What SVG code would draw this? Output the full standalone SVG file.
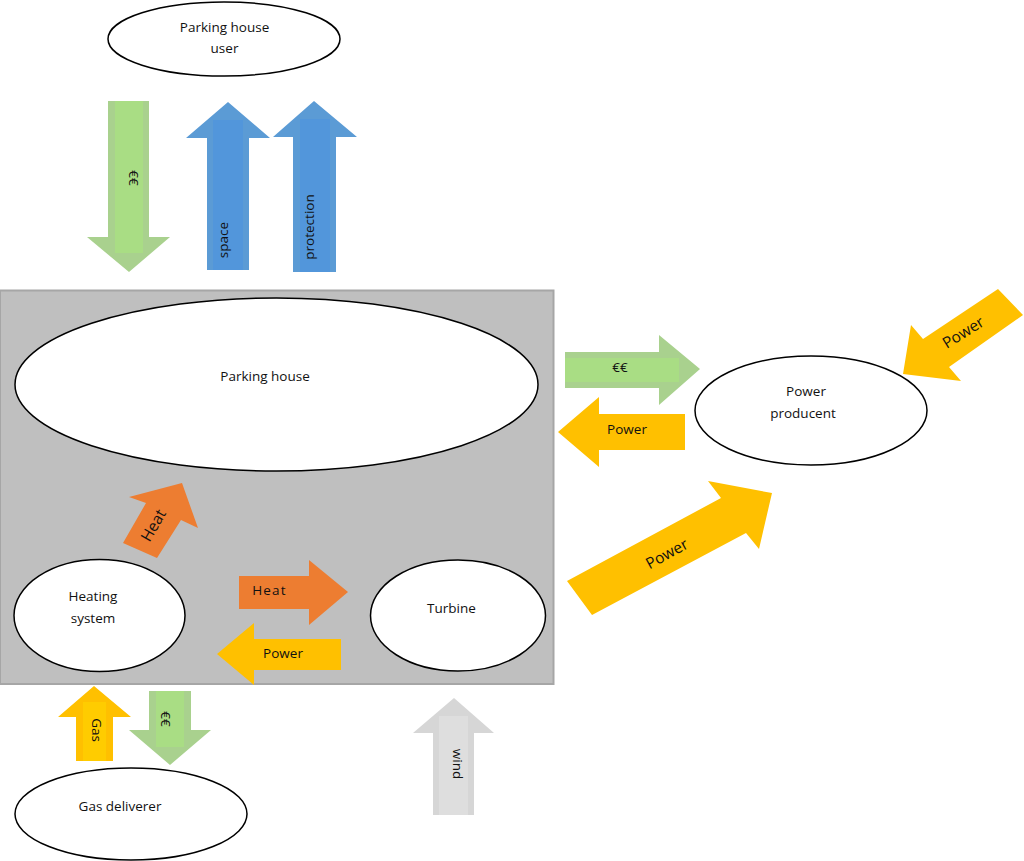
<svg xmlns="http://www.w3.org/2000/svg" width="1024" height="861" viewBox="0 0 1024 861">
<style>
text{font-family:"Open Sans","Noto Sans","Liberation Sans",sans-serif;font-size:13.500px;fill:#111;text-anchor:middle}
.big{font-size:15.500px}
.wide{letter-spacing:1.200px}
.node{fill:#fff;stroke:#000;stroke-width:1.500}
.green{fill:#A9D18E}.greenIn{fill:#A9DD84}
.blue{fill:#5B9BD5}.blueIn{fill:#5296DB}
.gold{fill:#FFC000}.goldIn{fill:#FFCC00}
.orange{fill:#ED7D31}
.grey{fill:#D6D6D6}.greyIn{fill:#DEDEDE}
</style>
<rect id="system-boundary" x="0" y="290.500" width="553.500" height="393.500" fill="#BFBFBF" stroke="#A6A6A6" stroke-width="2"/>
<g id="connectors">
<g id="user-money"><polygon class="green" points="108,101 149,101 149,237 170,237 129,272 87,237 108,237"/><rect class="greenIn" x="115" y="101" width="28" height="152"/><text transform="translate(129,178) rotate(90)">€€</text></g>
<g id="space"><polygon class="blue" points="228,102 270,138 249,138 249,270 207,270 207,138 186,138"/><rect class="blueIn" x="213" y="120" width="30" height="150"/><text transform="translate(228,240) rotate(-90)">space</text></g>
<g id="protection"><polygon class="blue" points="314,101 357,137 336,137 336,272 293,272 293,137 273,137"/><rect class="blueIn" x="300" y="119" width="30" height="153"/><text transform="translate(314,227) rotate(-90)">protection</text></g>
<g id="money-producent"><polygon class="green" points="565,352 659,352 659,335 700,369 659,405 659,388 565,388"/><rect class="greenIn" x="565" y="358" width="114" height="24"/><text x="620" y="372">€€</text></g>
<g id="power-back"><polygon class="gold" points="558,432 599,397 599,414 685,414 685,450 599,450 599,467"/><text x="627" y="434">Power</text></g>
<g id="power-in"><polygon class="gold" points="998,289 1023,315 949,367 961,381 903,374 911,325 923,339"/><text class="big" transform="translate(966,337) rotate(-32)">Power</text></g>
<g id="power-big"><polygon class="gold" points="567,581 721,498 708,481 772,493 759,549 746,533 592,615"/><text class="big" transform="translate(669.500,558.500) rotate(-29)">Power</text></g>
<g id="heat-up"><polygon class="orange" points="123,543 146,503 129,497 182,483 198,528 181,520 157,558"/><text class="big" transform="translate(158,528) rotate(-60)">Heat</text></g>
<g id="heat-right"><polygon class="orange" points="239,576 309,576 309,560 348,592 309,625 309,609 239,609"/><text class="wide" x="269.500" y="595">Heat</text></g>
<g id="power-small"><polygon class="gold" points="217,654 254,623 254,639 341,639 341,670 254,670 254,685"/><text x="283" y="658">Power</text></g>
<g id="gas"><polygon class="gold" points="94,686 131,717 113,717 113,761 76,761 76,717 58,717"/><rect class="goldIn" x="83" y="702" width="23" height="59"/><text transform="translate(92,730) rotate(90)">Gas</text></g>
<g id="gas-money"><polygon class="green" points="149,691 191,691 191,730 211,730 170,765 129,730 149,730"/><rect class="greenIn" x="156" y="691" width="28" height="56"/><text transform="translate(161,719) rotate(90)">€€</text></g>
<g id="wind"><polygon class="grey" points="454,698 494,733 474,733 474,815 433,815 433,733 413,733"/><rect class="greyIn" x="439" y="716" width="29" height="99"/><text transform="translate(453,764) rotate(90)">wind</text></g>
</g>
<g id="parking-house-user"><ellipse class="node" cx="224" cy="39" rx="116" ry="37"/><text x="224.500" y="32">Parking house</text><text x="224.500" y="53">user</text></g>
<g id="parking-house"><ellipse class="node" cx="276.500" cy="384.500" rx="261.500" ry="86.500"/><text x="265" y="381">Parking house</text></g>
<g id="heating-system"><ellipse class="node" cx="99.500" cy="615.500" rx="85.500" ry="56"/><text x="93" y="601">Heating</text><text x="93" y="623">system</text></g>
<g id="turbine"><ellipse class="node" cx="458" cy="615.500" rx="87.500" ry="55.500"/><text x="451.500" y="613">Turbine</text></g>
<g id="power-producent"><ellipse class="node" cx="811" cy="410.500" rx="116" ry="54.500"/><text x="806" y="396">Power</text><text x="803" y="418">producent</text></g>
<g id="gas-deliverer"><ellipse class="node" cx="131" cy="814" rx="116" ry="46"/><text x="120" y="811">Gas deliverer</text></g>
</svg>
